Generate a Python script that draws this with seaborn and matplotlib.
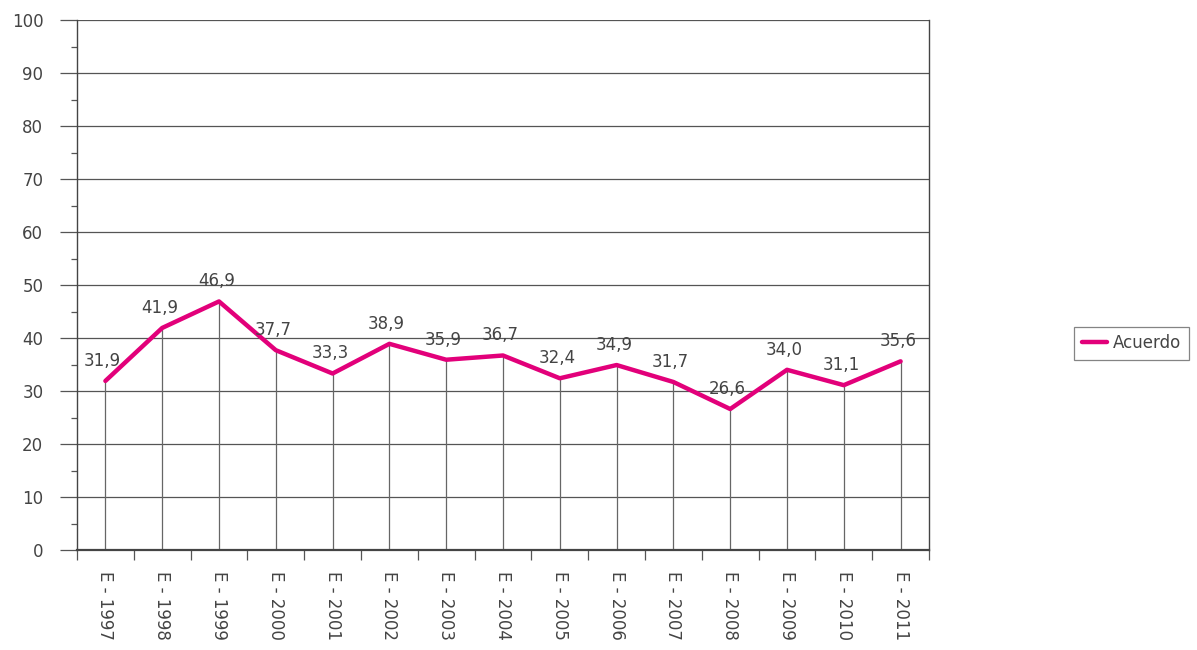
import matplotlib
matplotlib.use("Agg")
import matplotlib.pyplot as plt
import numpy as np
import pandas as pd
import seaborn as sns
from matplotlib.ticker import MultipleLocator

years = ["E - 1997", "E - 1998", "E - 1999", "E - 2000", "E - 2001", "E - 2002",
         "E - 2003", "E - 2004", "E - 2005", "E - 2006", "E - 2007", "E - 2008",
         "E - 2009", "E - 2010", "E - 2011"]
acuerdo = [31.9, 41.9, 46.9, 37.7, 33.3, 38.9, 35.9, 36.7, 32.4, 34.9, 31.7, 26.6,
           34.0, 31.1, 35.6]

MAGENTA = "#E2007A"
TEXT = "#444444"
PX = 72 / 100  # points per pixel at dpi 100

sns.set_style("white")
plt.rcParams["font.family"] = ["DejaVu Sans"]

df = pd.DataFrame({"year": years, "value": acuerdo})
x = np.arange(len(years))

fig = plt.figure(figsize=(11.97, 6.5), dpi=100)
ax = fig.add_axes([77 / 1197, 100 / 650, (929 - 77) / 1197, (550 - 20) / 650])

# horizontal gridlines
ax.grid(axis="y", color="#555555", lw=0.9)
ax.set_axisbelow(True)

# drop lines from each point to the axis
ax.vlines(x, 0, df["value"], color="#666666", lw=0.9, zorder=1)

sns.lineplot(data=df, x="year", y="value", color=MAGENTA, lw=3.2, ax=ax,
             label="Acuerdo", sort=False, zorder=3)

for xi, v in zip(x, acuerdo):
    ax.annotate(f"{v:.1f}".replace(".", ","), (xi, v), textcoords="offset points",
                xytext=(-2, 8), ha="center", va="bottom", fontsize=12, color=TEXT)

ax.set_xlim(-0.5, len(years) - 0.5)
ax.set_ylim(0, 100)
ax.yaxis.set_major_locator(MultipleLocator(10))
ax.yaxis.set_minor_locator(MultipleLocator(5))
ax.tick_params(axis="y", which="major", length=17 * PX, width=0.9, color="#555555",
               labelsize=12, labelcolor=TEXT, pad=12, left=True)
ax.tick_params(axis="y", which="minor", length=6 * PX, width=0.9, color="#555555", left=True)

# category labels at centers, tick marks at boundaries
ax.set_xticks(x)
ax.set_xticklabels(years, rotation=270, fontsize=12, color=TEXT)
ax.set_xticks(np.arange(-0.5, len(years)), minor=True)
ax.tick_params(axis="x", which="major", length=0, pad=15)
ax.tick_params(axis="x", which="minor", length=10 * PX, width=0.9, color="#555555", bottom=True)

for side in ["left", "right", "bottom"]:
    ax.spines[side].set_visible(True)
    ax.spines[side].set_color("#444444")
    ax.spines[side].set_linewidth(1.0)
ax.spines["bottom"].set_linewidth(1.6)
ax.spines["top"].set_visible(False)

ax.set_xlabel("")
ax.set_ylabel("")

leg = ax.legend(loc="center left", bbox_to_anchor=(1074 / 1197, 1 - 343 / 650),
                bbox_transform=fig.transFigure, frameon=True, fancybox=False,
                fontsize=12, handlelength=1.5, handletextpad=0.4, borderpad=0.45,
                borderaxespad=0)
leg.get_frame().set_edgecolor("#666666")
leg.get_frame().set_linewidth(0.9)
for t in leg.get_texts():
    t.set_color(TEXT)

fig.savefig("out.png", dpi=100)
plt.close()
